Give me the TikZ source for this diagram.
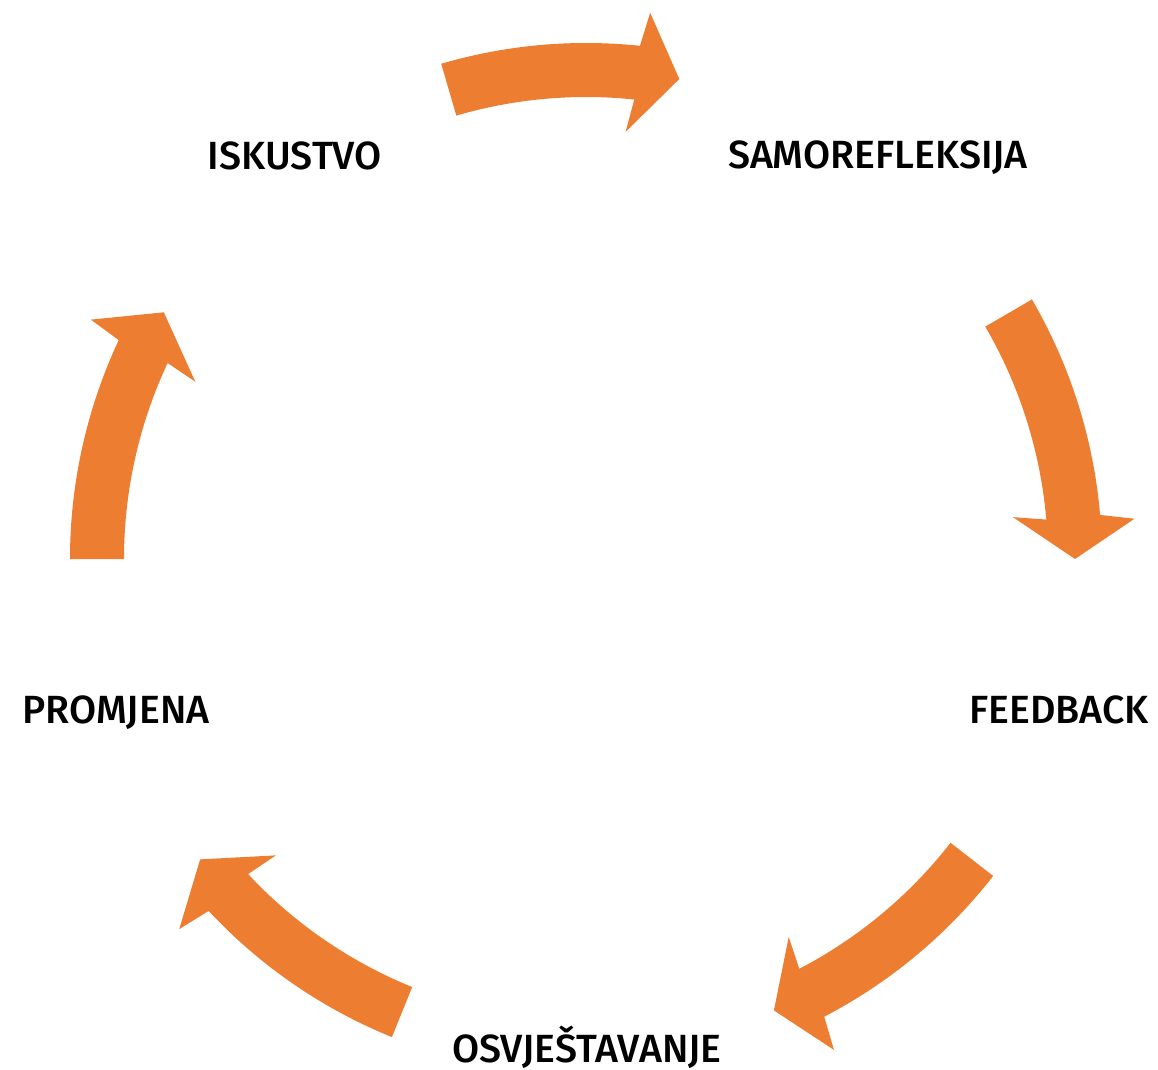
\documentclass[tikz,border=0pt]{standalone}
\usepackage{fontspec}
\setmainfont{Fira Sans}[BoldFont={Fira Sans Medium}]
\usepackage{tikz}
\usetikzlibrary{calc}
\definecolor{cycleorange}{HTML}{ED7D31}

\tikzset{
    cyclearrow/.style={fill=cycleorange, draw=none},
    steplabel/.style={anchor=base, inner sep=0pt, text depth=0pt, font=\fontsize{29.5}{32}\selectfont\bfseries, text=black}
}

\begin{document}
\begin{tikzpicture}[x=0.75pt, y=0.75pt]
    \useasboundingbox (0,0) rectangle (1158,-1070);
    \coordinate (C) at (586,-559);

    % Cycle arrows: start angle / head base angle / tip angle
    \foreach \s/\b/\t in {106.3/84/79, 30.2/4.9/0, -37.9/-62.5/-67.4, 247.9/223/217.9, 180/154.9/149.7} {
        \fill[cyclearrow] ($(C)+(\s:516)$) arc[start angle=\s, end angle=\b, radius=516]
            -- ($(C)+(\b-0.7:550)$) -- ($(C)+(\t:489)$) -- ($(C)+(\b+0.7:429)$)
            -- ($(C)+(\b:462)$) arc[start angle=\b, end angle=\s, radius=462] -- cycle;
    }

    % Labels
    \node[steplabel] (iskustvo) at (295,-170) {ISKUSTVO};
    \node[steplabel] (samorefleksija) at (878,-169) {SAMOREFLEKSIJA};
    \node[steplabel] (feedback) at (1059,-723) {FEEDBACK};
    \node[steplabel] (osvjestavanje) at (587,-1062) {OSVJEŠTAVANJE};
    \node[steplabel] (promjena) at (116,-723) {PROMJENA};
\end{tikzpicture}
\end{document}
